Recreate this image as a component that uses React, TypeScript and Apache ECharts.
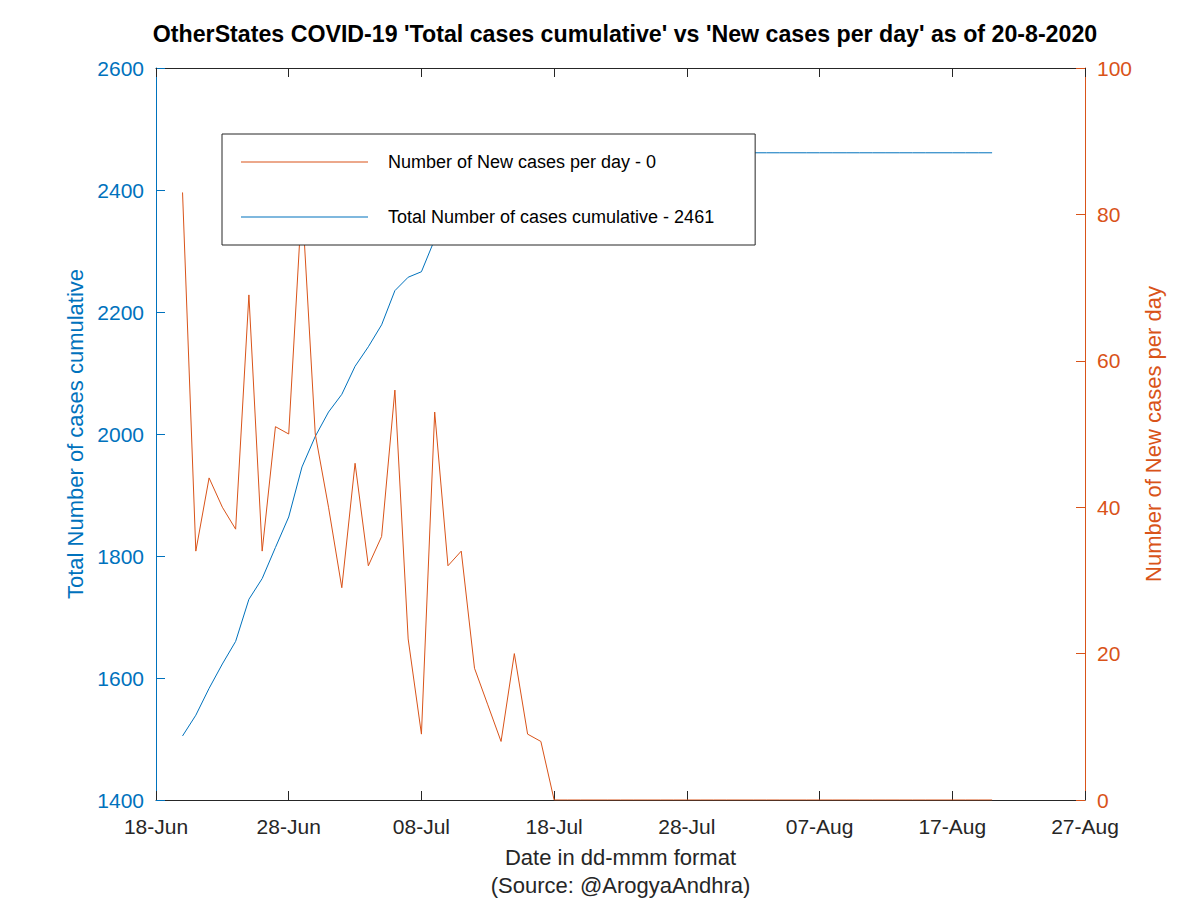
import React, { useEffect, useRef } from "react";
import * as echarts from "echarts";

const titleText =
  "OtherStates COVID-19 'Total cases cumulative' vs 'New cases per day' as of 20-8-2020";
const xTickLabels = ["18-Jun", "28-Jun", "08-Jul", "18-Jul", "28-Jul", "07-Aug", "17-Aug", "27-Aug"];
// day offset (from 18-Jun) of the first data point: 20-Jun
const firstDayOffset = 2;

// New cases per day, 20-Jun .. 20-Aug
const newCases = [
  83, 34, 44, 40, 37, 69, 34, 51, 50, 82, 50, 40, 29, 46, 32, 36, 56, 22, 9, 53,
  32, 34, 18, 13, 8, 20, 9, 8,
  0, 0, 0, 0, 0, 0, 0, 0, 0, 0, 0, 0, 0, 0, 0, 0, 0, 0, 0, 0, 0, 0, 0, 0, 0, 0,
  0, 0, 0, 0, 0, 0, 0, 0,
];

// Total cases cumulative, 20-Jun .. 20-Aug
const cumulative = [
  1505, 1539, 1583, 1623, 1660, 1729, 1763, 1814, 1864, 1946, 1996, 2036, 2065,
  2111, 2143, 2179, 2235, 2257, 2266, 2319, 2351, 2385, 2403, 2416, 2424, 2444,
  2453, 2461,
  2461, 2461, 2461, 2461, 2461, 2461, 2461, 2461, 2461, 2461, 2461, 2461, 2461,
  2461, 2461, 2461, 2461, 2461, 2461, 2461, 2461, 2461, 2461, 2461, 2461, 2461,
  2461, 2461, 2461, 2461, 2461, 2461, 2461, 2461,
];

const BLUE = "#0072BD";
const ORANGE = "#D95319";
const DARK = "#262626";
const FONT = "'Liberation Sans', Arial, Helvetica, sans-serif";

export default function App() {
  const ref = useRef<HTMLDivElement>(null);

  useEffect(() => {
    if (!ref.current) return;
    const chart = echarts.init(ref.current, undefined, { renderer: "svg" });
    const newName = "Number of New cases per day - " + newCases[newCases.length - 1];
    const cumName = "Total Number of cases cumulative - " + cumulative[cumulative.length - 1];

    chart.setOption({
      animation: false,
      backgroundColor: "#ffffff",
      textStyle: { fontFamily: FONT },
      title: {
        text: titleText,
        left: 620,
        textAlign: "center",
        top: 17,
        textStyle: { fontFamily: FONT, fontSize: 23.2, fontWeight: "bold", color: "#000" },
      },
      legend: {
        data: [newName, cumName],
        orient: "vertical",
        left: 222,
        top: 134,
        icon: "rect",
        itemWidth: 127,
        itemHeight: 1,
        itemGap: 37,
        padding: [19, 41, 19, 19],
        backgroundColor: "#ffffff",
        borderColor: "#262626",
        borderWidth: 1,
        textStyle: {
          fontFamily: FONT,
          fontSize: 18,
          color: "#000",
          lineHeight: 14,
          padding: [0, 0, 0, 15],
        },
      },
      grid: {
        left: 156,
        right: 115,
        top: 68,
        bottom: 100,
        containLabel: false,
        outerBoundsMode: "none",
      },
      xAxis: [
        {
          type: "value",
          min: 0,
          max: 70,
          interval: 10,
          position: "bottom",
          name: "Date in dd-mmm format\n(Source: @ArogyaAndhra)",
          nameLocation: "middle",
          nameGap: 43,
          nameTextStyle: { fontFamily: FONT, fontSize: 22, color: DARK, lineHeight: 28 },
          axisLine: { show: true, onZero: false, lineStyle: { color: DARK, width: 1 } },
          axisTick: { show: true, inside: true, length: 9, lineStyle: { color: DARK } },
          axisLabel: {
            fontFamily: FONT,
            fontSize: 21,
            color: DARK,
            margin: 16,
            formatter: (v: number) => xTickLabels[Math.round(v / 10)] ?? "",
          },
          splitLine: { show: false },
        },
        {
          type: "value",
          min: 0,
          max: 70,
          interval: 10,
          position: "top",
          axisLine: { show: true, onZero: false, lineStyle: { color: DARK, width: 1 } },
          axisTick: { show: true, inside: true, length: 9, lineStyle: { color: DARK } },
          axisLabel: { show: false },
          splitLine: { show: false },
        },
      ],
      yAxis: [
        {
          type: "value",
          min: 1400,
          max: 2600,
          interval: 200,
          position: "left",
          name: "Total Number of cases cumulative",
          nameLocation: "middle",
          nameGap: 64,
          nameTextStyle: { fontFamily: FONT, fontSize: 22, color: BLUE },
          axisLine: { show: true, onZero: false, lineStyle: { color: BLUE, width: 1 } },
          axisTick: { show: true, inside: true, length: 9, lineStyle: { color: BLUE } },
          axisLabel: {
            fontFamily: FONT,
            fontSize: 21,
            color: BLUE,
            margin: 12,
            formatter: (v: number) => String(v),
          },
          splitLine: { show: false },
        },
        {
          type: "value",
          min: 0,
          max: 100,
          interval: 20,
          position: "right",
          name: "Number of New cases per day",
          nameLocation: "middle",
          nameGap: 53,
          nameTextStyle: { fontFamily: FONT, fontSize: 22, color: ORANGE },
          axisLine: { show: true, onZero: false, lineStyle: { color: ORANGE, width: 1 } },
          axisTick: { show: true, inside: true, length: 9, lineStyle: { color: ORANGE } },
          axisLabel: {
            fontFamily: FONT,
            fontSize: 21,
            color: ORANGE,
            margin: 12,
            formatter: (v: number) => String(v),
          },
          splitLine: { show: false },
        },
      ],
      series: [
        {
          name: cumName,
          type: "line",
          xAxisIndex: 0,
          yAxisIndex: 0,
          showSymbol: false,
          symbol: "none",
          lineStyle: { color: BLUE, width: 1 },
          itemStyle: { color: BLUE },
          data: cumulative.map((v, i) => [firstDayOffset + i, v]),
          z: 2,
        },
        {
          name: newName,
          type: "line",
          xAxisIndex: 0,
          yAxisIndex: 1,
          showSymbol: false,
          symbol: "none",
          lineStyle: { color: ORANGE, width: 1 },
          itemStyle: { color: ORANGE },
          data: newCases.map((v, i) => [firstDayOffset + i, v]),
          z: 3,
        },
      ],
    });
    return () => chart.dispose();
  }, []);

  return (
    <div
      ref={ref}
      style={{ position: "absolute", left: 0, top: 0, width: 1200, height: 900 }}
    />
  );
}
